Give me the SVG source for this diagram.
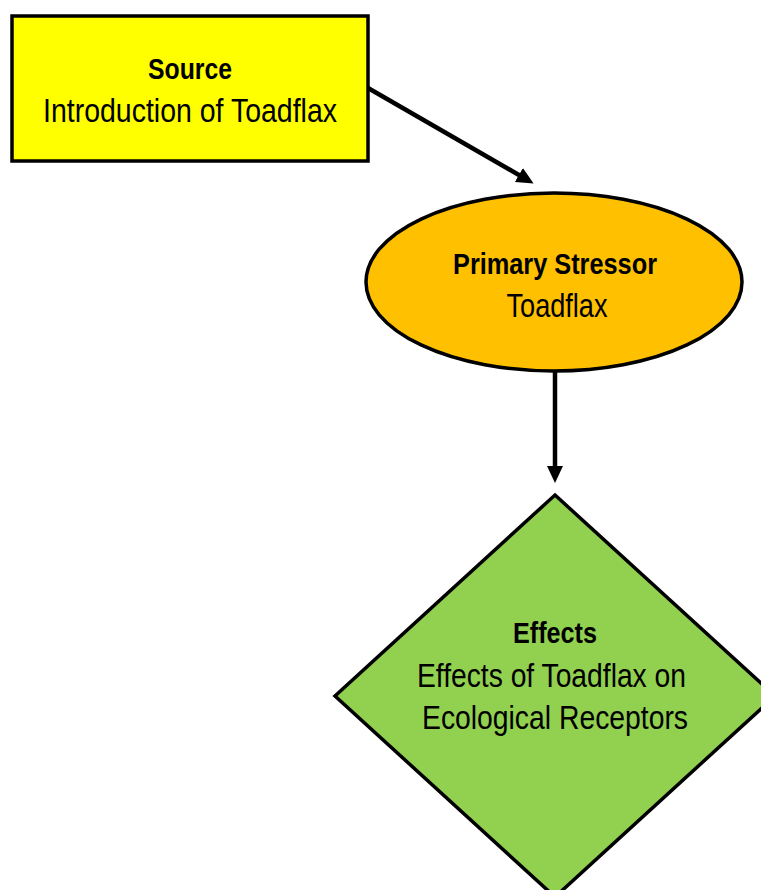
<svg xmlns="http://www.w3.org/2000/svg" width="761" height="890" viewBox="0 0 761 890">
<style>
  .node { stroke: #000; stroke-width: 3.5; }
  .t { font-family: "Liberation Sans Narrow", "Liberation Sans", Arial, sans-serif; fill: #000; text-anchor: middle; }
  .b { font-weight: bold; font-size: 29px; }
  .r { font-size: 34px; }
  .conn { stroke: #000; stroke-width: 4.5; fill: none; }
</style>
<defs>
  <marker id="arrow" markerUnits="userSpaceOnUse" markerWidth="17" markerHeight="17" viewBox="0 0 17 17" refX="3" refY="8.5" orient="auto">
    <path d="M0,0.5 L17,8.5 L0,16.5 z" fill="#000"/>
  </marker>
</defs>
<rect width="761" height="890" fill="#fff"/>
<g id="connectors">
  <line class="conn" x1="368" y1="88" x2="521.5" y2="176.5" marker-end="url(#arrow)"/>
  <line class="conn" x1="555" y1="372" x2="555" y2="469" marker-end="url(#arrow)"/>
</g>
<g id="source">
  <rect class="node" x="12" y="16" width="356" height="145" fill="#FFFF00"/>
  <text class="t b" x="190" y="79" textLength="84" lengthAdjust="spacingAndGlyphs">Source</text>
  <text class="t r" x="190" y="122" textLength="294" lengthAdjust="spacingAndGlyphs">Introduction of Toadflax</text>
</g>
<g id="primary-stressor">
  <ellipse class="node" cx="554" cy="282" rx="188" ry="89" fill="#FFC000"/>
  <text class="t b" x="555" y="274" textLength="204" lengthAdjust="spacingAndGlyphs">Primary Stressor</text>
  <text class="t r" x="557" y="317" textLength="101" lengthAdjust="spacingAndGlyphs">Toadflax</text>
</g>
<g id="effects">
  <polygon class="node" points="555,495 775,696 555,897 335,696" fill="#92D050"/>
  <text class="t b" x="555" y="643" textLength="84" lengthAdjust="spacingAndGlyphs">Effects</text>
  <text class="t r" x="551.5" y="687" textLength="269" lengthAdjust="spacingAndGlyphs">Effects of Toadflax on</text>
  <text class="t r" x="555" y="729" textLength="266" lengthAdjust="spacingAndGlyphs">Ecological Receptors</text>
</g>
</svg>
